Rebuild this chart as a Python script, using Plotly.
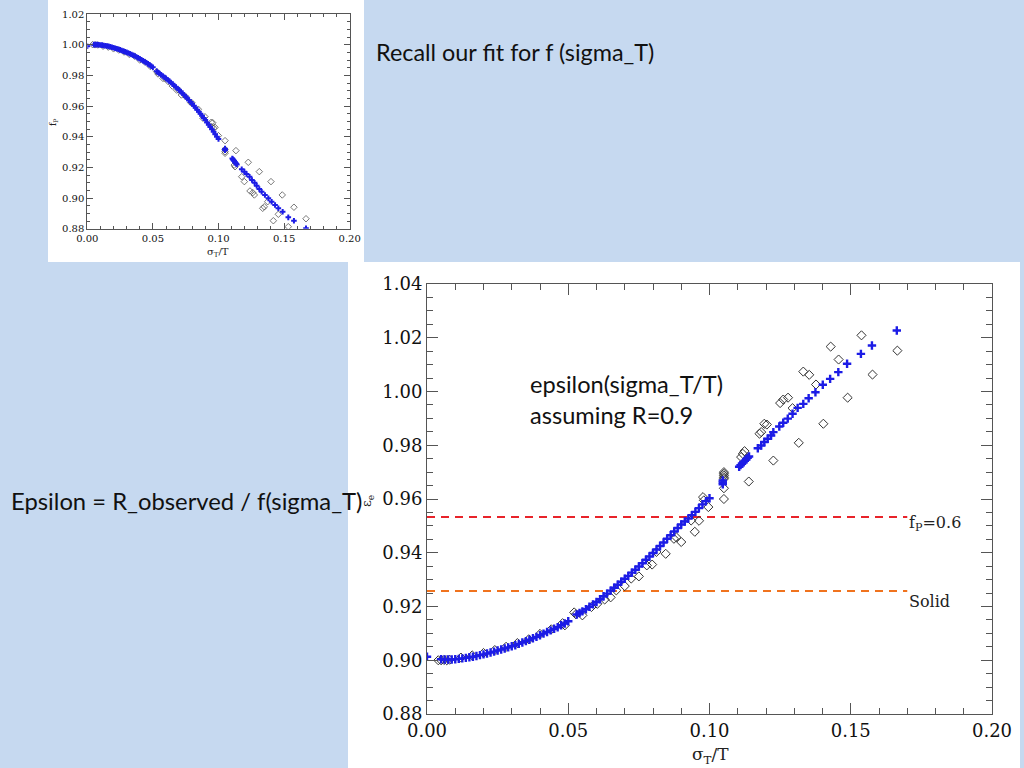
import plotly.graph_objects as go

# ---------------- data ----------------
# Big panel: epsilon vs sigma_T/T, fitted (blue crosses)
fit_x = [0.000, 0.005, 0.00625, 0.0075, 0.00875, 0.010, 0.01125, 0.0125, 0.01375, 0.015,
         0.01625, 0.0175, 0.01875, 0.020, 0.02125, 0.0225, 0.02375, 0.025, 0.02625, 0.0275,
         0.02875, 0.030, 0.03125, 0.0325, 0.03375, 0.035, 0.03625, 0.0375, 0.03875, 0.040,
         0.04125, 0.0425, 0.04375, 0.045, 0.04625, 0.0475, 0.04875, 0.050,
         0.053, 0.054, 0.055, 0.05625, 0.0575, 0.05875, 0.060, 0.06125, 0.0625, 0.06375,
         0.065, 0.06625, 0.0675, 0.06875, 0.070, 0.07125, 0.0725, 0.07375, 0.075, 0.07625,
         0.0775, 0.07875, 0.080, 0.08125, 0.0825, 0.08375, 0.085, 0.08625, 0.0875, 0.08875,
         0.090, 0.09125, 0.0925, 0.09375, 0.095, 0.09625, 0.0975, 0.09875, 0.100,
         0.1047, 0.1047, 0.1047,
         0.1105, 0.111, 0.1115, 0.112, 0.1125, 0.113, 0.1135, 0.114,
         0.1171, 0.1183, 0.1194, 0.1206, 0.1218, 0.1226, 0.1247, 0.1261, 0.1277, 0.1294,
         0.1312, 0.1332, 0.1351, 0.1375, 0.1401, 0.1427, 0.1456, 0.1487, 0.1536, 0.1575,
         0.1663]
fit_eps = [0.9013, 0.9004, 0.9003, 0.9003, 0.9003, 0.9004, 0.9005, 0.9007, 0.9009, 0.9011,
           0.9013, 0.9016, 0.9019, 0.9022, 0.9025, 0.9029, 0.9032, 0.9036, 0.9040, 0.9044,
           0.9048, 0.9052, 0.9056, 0.9061, 0.9066, 0.9071, 0.9076, 0.9082, 0.9087, 0.9093,
           0.9099, 0.9105, 0.9111, 0.9117, 0.9123, 0.9130, 0.9137, 0.9145,
           0.9170, 0.9176, 0.9182, 0.9190, 0.9199, 0.9208, 0.9217, 0.9227, 0.9238, 0.9248,
           0.9259, 0.9270, 0.9281, 0.9292, 0.9303, 0.9314, 0.9326, 0.9337, 0.9349, 0.9361,
           0.9374, 0.9386, 0.9399, 0.9412, 0.9425, 0.9438, 0.9452, 0.9465, 0.9479, 0.9492,
           0.9505, 0.9516, 0.9527, 0.9540, 0.9552, 0.9566, 0.9580, 0.9592, 0.9603,
           0.9655, 0.9662, 0.9669,
           0.9720, 0.9726, 0.9731, 0.9737, 0.9742, 0.9748, 0.9753, 0.9758,
           0.9789, 0.9799, 0.9812, 0.9824, 0.9836, 0.9849, 0.9870, 0.9884, 0.9899, 0.9917,
           0.9939, 0.9954, 0.9975, 0.9997, 1.0025, 1.0047, 1.0072, 1.0103, 1.0140, 1.0171,
           1.0227]

# Big panel: observed (open diamonds)
obs_x = [0.004, 0.005, 0.006, 0.007, 0.008, 0.012, 0.016, 0.020, 0.024, 0.028,
         0.032, 0.036, 0.040, 0.044, 0.048, 0.0488,
         0.0521, 0.0527, 0.0550, 0.0582, 0.0603, 0.0629, 0.0650, 0.0670, 0.0700, 0.0723,
         0.0750, 0.0778, 0.0797, 0.0812, 0.0845, 0.0874, 0.0883, 0.0900, 0.0935, 0.0948,
         0.0963, 0.0977, 0.0980, 0.0996,
         0.1051, 0.1051, 0.1051, 0.1051, 0.1051, 0.1051, 0.1051,
         0.1112, 0.1118, 0.1124, 0.1139, 0.1177, 0.1183, 0.1194, 0.1203, 0.1226,
         0.1250, 0.1261, 0.1278, 0.1294, 0.1316, 0.1332, 0.1353, 0.1377, 0.1403, 0.1429,
         0.1457, 0.1489, 0.1538, 0.1577, 0.1665]
obs_eps = [0.9000, 0.9000, 0.9001, 0.9000, 0.9002, 0.9010, 0.9018, 0.9027, 0.9038, 0.9050,
           0.9064, 0.9078, 0.9098, 0.9115, 0.9138, 0.9130,
           0.9178, 0.9171, 0.9167, 0.9198, 0.9210, 0.9226, 0.9234, 0.9260, 0.9276, 0.9304,
           0.9312, 0.9353, 0.9356, 0.9403, 0.9396, 0.9452, 0.9457, 0.9440, 0.9520, 0.9478,
           0.9519, 0.9607, 0.9595, 0.9570,
           0.9700, 0.9694, 0.9688, 0.9681, 0.9675, 0.9640, 0.9600,
           0.9756, 0.9768, 0.9778, 0.9665, 0.9843, 0.9849, 0.9880, 0.9877, 0.9743,
           0.9957, 0.9970, 0.9977, 0.9938, 0.9809, 1.0074, 1.0062, 1.0026, 0.9880, 1.0167,
           1.0119, 0.9977, 1.0209, 1.0063, 1.0152]

# Small panel: f_p vs sigma_T/T, fitted (blue) and observed (diamonds)
fitf_x = [0.000, 0.005, 0.00625, 0.0075, 0.00875, 0.010, 0.01125, 0.0125, 0.01375, 0.015,
          0.01625, 0.0175, 0.01875, 0.020, 0.02125, 0.0225, 0.02375, 0.025, 0.02625, 0.0275,
          0.02875, 0.030, 0.03125, 0.0325, 0.03375, 0.035, 0.03625, 0.0375, 0.03875, 0.040,
          0.04125, 0.0425, 0.04375, 0.045, 0.04625, 0.0475, 0.04875, 0.050,
          0.053, 0.054, 0.055, 0.05625, 0.0575, 0.05875, 0.060, 0.06125, 0.0625, 0.06375,
          0.065, 0.06625, 0.0675, 0.06875, 0.070, 0.07125, 0.0725, 0.07375, 0.075, 0.07625,
          0.0775, 0.07875, 0.080, 0.08125, 0.0825, 0.08375, 0.085, 0.08625, 0.0875, 0.08875,
          0.090, 0.09125, 0.0925, 0.09375, 0.095, 0.09625, 0.0975, 0.09875, 0.100,
          0.105, 0.105, 0.105,
          0.1105, 0.111, 0.1115, 0.112, 0.1125, 0.113, 0.1135, 0.114,
          0.1177, 0.1197, 0.1214, 0.1237, 0.1255, 0.1275, 0.1291, 0.1311, 0.1329, 0.1354,
          0.1380, 0.1405, 0.1431, 0.1456, 0.1489, 0.1532, 0.1575, 0.1667]
fitf_f = [0.9990, 1.0000, 1.0000, 1.0000, 0.9999, 0.9998, 0.9997, 0.9995, 0.9993, 0.9991,
          0.9989, 0.9986, 0.9983, 0.9980, 0.9977, 0.9973, 0.9970, 0.9966, 0.9962, 0.9958,
          0.9954, 0.9950, 0.9946, 0.9941, 0.9936, 0.9931, 0.9926, 0.9920, 0.9914, 0.9908,
          0.9902, 0.9895, 0.9889, 0.9882, 0.9875, 0.9868, 0.9860, 0.9852,
          0.9826, 0.9819, 0.9812, 0.9804, 0.9796, 0.9788, 0.9780, 0.9771, 0.9762, 0.9753,
          0.9743, 0.9734, 0.9724, 0.9714, 0.9704, 0.9694, 0.9683, 0.9672, 0.9661, 0.9650,
          0.9638, 0.9626, 0.9614, 0.9602, 0.9589, 0.9576, 0.9563, 0.9550, 0.9536, 0.9522,
          0.9508, 0.9493, 0.9478, 0.9463, 0.9448, 0.9432, 0.9416, 0.9400, 0.9385,
          0.9322, 0.9317, 0.9312,
          0.9258, 0.9252, 0.9246, 0.9241, 0.9235, 0.9229, 0.9224, 0.9219,
          0.9187, 0.9172, 0.9157, 0.9139, 0.9118, 0.9100, 0.9080, 0.9059, 0.9041, 0.9020,
          0.8998, 0.8976, 0.8955, 0.8933, 0.8911, 0.8874, 0.8852, 0.8803]

obsf_x = [0.004, 0.006, 0.008, 0.012, 0.016, 0.020, 0.024, 0.028, 0.032, 0.036,
          0.040, 0.044, 0.048, 0.0529, 0.0539, 0.0577, 0.0592, 0.0617, 0.0648, 0.0681,
          0.0696, 0.0717, 0.0750, 0.0788, 0.0796, 0.0846, 0.0882, 0.0897, 0.0945, 0.0948,
          0.0956, 0.0963, 0.0973, 0.0999,
          0.105, 0.105, 0.105, 0.105, 0.1120, 0.1126, 0.1133, 0.1177, 0.1197, 0.1227,
          0.1240, 0.1261, 0.1273, 0.1311, 0.1337, 0.1349, 0.1375, 0.1400, 0.1418, 0.1456,
          0.1486, 0.1532, 0.1575, 0.1667]
obsf_f = [1.0000, 0.9999, 0.9998, 0.9990, 0.9984, 0.9973, 0.9965, 0.9952, 0.9937, 0.9925,
          0.9900, 0.9886, 0.9858, 0.9824, 0.9809, 0.9780, 0.9780, 0.9759, 0.9730, 0.9704,
          0.9704, 0.9672, 0.9661, 0.9622, 0.9622, 0.9579, 0.9520, 0.9530, 0.9494, 0.9465,
          0.9491, 0.9455, 0.9461, 0.9407,
          0.9374, 0.9318, 0.9302, 0.9292, 0.9215, 0.9204, 0.9309, 0.9139, 0.9107, 0.9233,
          0.9046, 0.9035, 0.9020, 0.9172, 0.8933, 0.8943, 0.8976, 0.9107, 0.8852, 0.8894,
          0.9020, 0.8813, 0.8940, 0.8865]

# Reference levels
fp_level = 0.9533
solid_level = 0.9258
level_x = [0.0, 0.17]

# Tick values
x_ticks = [0.00, 0.05, 0.10, 0.15, 0.20]
y_ticks_small = [0.88, 0.90, 0.92, 0.94, 0.96, 0.98, 1.00, 1.02]
y_ticks_big = [0.88, 0.90, 0.92, 0.94, 0.96, 0.98, 1.00, 1.02, 1.04]

# ---------------- styling ----------------
W, H = 1024, 768
BG = "#c6d9f0"
BLUE = "#1c1ce6"
FRAME = "#555555"
SERIF = "DejaVu Serif"
SANS = "Lato"


def px_x(p):
    return p / W


def px_y(p):
    return 1 - p / H


fig = go.Figure()

# small panel traces
fig.add_trace(go.Scatter(x=obsf_x, y=obsf_f, mode="markers", xaxis="x", yaxis="y",
                         marker=dict(symbol="diamond-open", size=5, color="#555555",
                                     line=dict(width=0.8)), showlegend=False))
fig.add_trace(go.Scatter(x=fitf_x, y=fitf_f, mode="markers", xaxis="x", yaxis="y",
                         marker=dict(symbol="cross-thin", size=4, color=BLUE,
                                     line=dict(width=2, color=BLUE)), showlegend=False))

# big panel traces
fig.add_trace(go.Scatter(x=level_x, y=[fp_level, fp_level], mode="lines", xaxis="x2", yaxis="y2",
                         line=dict(color="#e8232a", width=2, dash="8px,6px"), showlegend=False))
fig.add_trace(go.Scatter(x=level_x, y=[solid_level, solid_level], mode="lines", xaxis="x2", yaxis="y2",
                         line=dict(color="#f0731e", width=2, dash="8px,6px"), showlegend=False))
fig.add_trace(go.Scatter(x=obs_x, y=obs_eps, mode="markers", xaxis="x2", yaxis="y2",
                         marker=dict(symbol="diamond-open", size=7, color="#333333",
                                     line=dict(width=1)), showlegend=False))
fig.add_trace(go.Scatter(x=fit_x, y=fit_eps, mode="markers", xaxis="x2", yaxis="y2",
                         marker=dict(symbol="cross-thin", size=6, color=BLUE,
                                     line=dict(width=2.4, color=BLUE)), showlegend=False))


def axis_common(font_size, major_len):
    return dict(showline=True, linecolor=FRAME, linewidth=1, mirror="allticks",
                ticks="inside", ticklen=major_len, tickcolor=FRAME, tickwidth=1,
                showgrid=False, zeroline=False, automargin=False,
                tickfont=dict(family=SERIF, size=font_size, color="#111111"),
                tickformat=".2f", fixedrange=True)


xa1 = axis_common(10, 6)
xa1.update(domain=[px_x(87.3), px_x(349.7)], range=[0, 0.2], tickvals=x_ticks, anchor="y",
           minor=dict(dtick=0.01, ticks="inside", ticklen=3, tickcolor=FRAME))
ya1 = axis_common(10, 6)
ya1.update(domain=[px_y(228.7), px_y(14)], range=[0.88, 1.02], tickvals=y_ticks_small, anchor="x",
           minor=dict(dtick=0.005, tick0=0.88, ticks="inside", ticklen=3, tickcolor=FRAME))

xa2 = axis_common(18, 11)
xa2.update(domain=[px_x(427), px_x(992)], range=[0, 0.2], tickvals=x_ticks, anchor="y2",
           minor=dict(dtick=0.01, ticks="inside", ticklen=6, tickcolor=FRAME))
ya2 = axis_common(18, 11)
ya2.update(domain=[px_y(714), px_y(284)], range=[0.88, 1.04], tickvals=y_ticks_big, anchor="x2",
           minor=dict(dtick=0.005, tick0=0.88, ticks="inside", ticklen=6, tickcolor=FRAME))

annotations = [
    dict(text="Recall our fit for f (sigma_T)", x=px_x(374), y=px_y(52), xanchor="left", yanchor="middle",
         font=dict(family=SANS, size=23.4, color="#111111")),
    dict(text="Epsilon = R_observed / f(sigma_T)", x=px_x(9), y=px_y(501), xanchor="left", yanchor="middle",
         font=dict(family=SANS, size=23.8, color="#111111")),
    dict(text="epsilon(sigma_T/T)<br>assuming R=0.9", x=px_x(528), y=px_y(399), xanchor="left",
         yanchor="middle", align="left", font=dict(family=SANS, size=23.6, color="#111111")),
    dict(text="f<sub>P</sub>=0.6", x=px_x(907), y=px_y(523), xanchor="left", yanchor="middle",
         font=dict(family=SERIF, size=16, color="#222222")),
    dict(text="Solid", x=px_x(907), y=px_y(601), xanchor="left", yanchor="middle",
         font=dict(family=SERIF, size=16, color="#222222")),
    dict(text="σ<sub>T</sub>/T", x=px_x(710), y=px_y(755), xanchor="center", yanchor="middle",
         font=dict(family=SERIF, size=17, color="#222222")),
    dict(text="ε<sub>e</sub>", x=px_x(367), y=px_y(501), xanchor="center", yanchor="middle",
         textangle=-90, font=dict(family=SERIF, size=13, color="#222222")),
    dict(text="σ<sub>T</sub>/T", x=px_x(218), y=px_y(252), xanchor="center", yanchor="middle",
         font=dict(family=SERIF, size=10, color="#222222")),
    dict(text="f<sub>P</sub>", x=px_x(54), y=px_y(122), xanchor="center", yanchor="middle",
         textangle=-90, font=dict(family=SERIF, size=9, color="#222222")),
]
for a in annotations:
    a.update(xref="paper", yref="paper", showarrow=False)

shapes = [
    dict(type="rect", xref="paper", yref="paper", x0=px_x(48), x1=px_x(364), y0=px_y(262), y1=px_y(0),
         fillcolor="white", line=dict(width=0), layer="below"),
    dict(type="rect", xref="paper", yref="paper", x0=px_x(348), x1=px_x(1020), y0=px_y(768), y1=px_y(262),
         fillcolor="white", line=dict(width=0), layer="below"),
]

fig.update_layout(width=W, height=H, margin=dict(l=0, r=0, t=0, b=0, autoexpand=False),
                  paper_bgcolor=BG, plot_bgcolor="white",
                  xaxis=xa1, yaxis=ya1, xaxis2=xa2, yaxis2=ya2,
                  annotations=annotations, shapes=shapes, showlegend=False)

fig.write_html("out.html", config={"displayModeBar": False},
               post_script="document.body.style.margin='0';document.body.style.overflow='hidden';")
